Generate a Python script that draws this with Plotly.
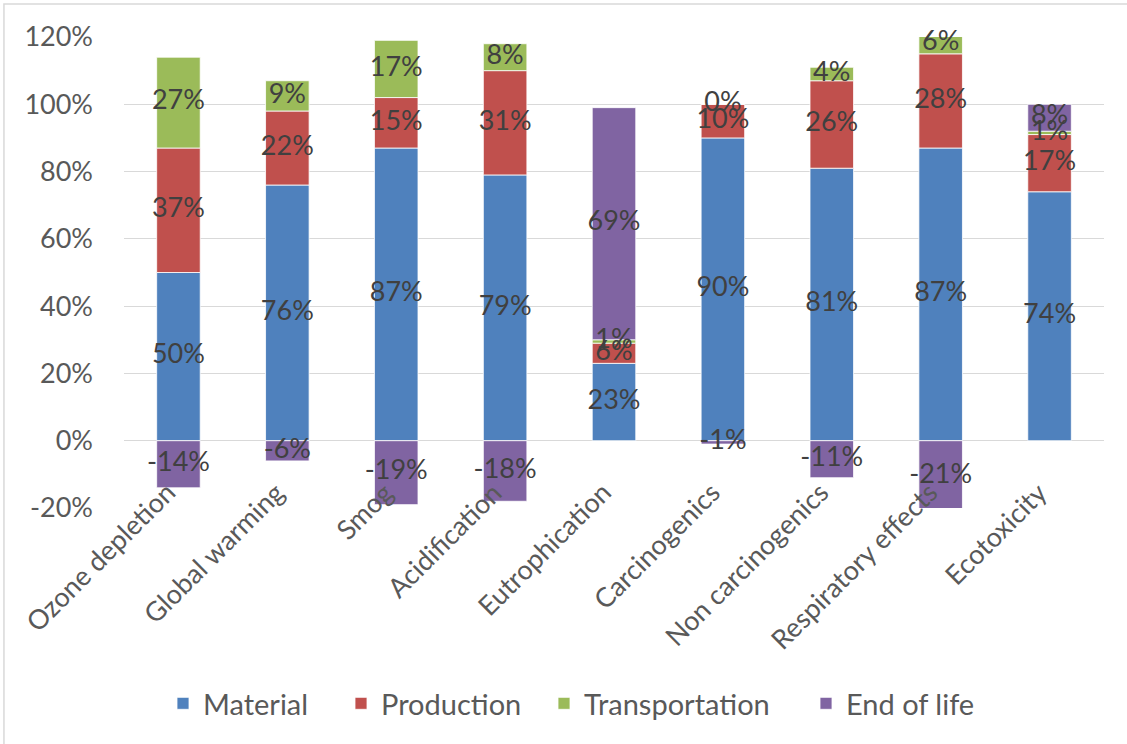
import plotly.graph_objects as go

# Impact categories and the share (%) contributed by each life-cycle stage
categories = [
    "Ozone depletion", "Global warming", "Smog", "Acidification",
    "Eutrophication", "Carcinogenics", "Non carcinogenics",
    "Respiratory effects", "Ecotoxicity",
]
material = [50, 76, 87, 79, 23, 90, 81, 87, 74]
production = [37, 22, 15, 31, 6, 10, 26, 28, 17]
transportation = [27, 9, 17, 8, 1, 0, 4, 6, 1]
end_of_life = [-14, -6, -19, -18, 69, -1, -11, -21, 8]

y_ticks = [-20, 0, 20, 40, 60, 80, 100, 120]
y_tick_labels = [f"{t}%" for t in y_ticks]

series = [
    ("Material", material, "#4F81BD"),
    ("Production", production, "#C0504D"),
    ("Transportation", transportation, "#9BBB59"),
    ("End of life", end_of_life, "#8064A2"),
]

FONT = "Lato"
LABEL_GREY = "#595959"

# Plot-area geometry in pixels, used to place each legend entry
PLOT_LEFT, PLOT_WIDTH = 124, 980
legend_left_px = [163, 341, 544, 806]
legend_ids = ["legend", "legend2", "legend3", "legend4"]

fig = go.Figure()
for (name, values, color), lid in zip(series, legend_ids):
    fig.add_trace(go.Bar(
        name=name,
        x=categories,
        y=values,
        legend=lid,
        marker=dict(color=color, line=dict(color="white", width=0.8)),
        hoverinfo="skip",
    ))

# Value labels centred on each stacked segment, drawn above every bar
pos_base = [0.0] * len(categories)
neg_base = [0.0] * len(categories)
for name, values, color in series:
    centers = []
    for i, v in enumerate(values):
        if v >= 0:
            centers.append(pos_base[i] + v / 2)
            pos_base[i] += v
        else:
            centers.append(neg_base[i] + v / 2)
            neg_base[i] += v
    fig.add_trace(go.Scatter(
        x=categories,
        y=centers,
        mode="text",
        text=[f"{v}%" for v in values],
        textposition="middle center",
        textfont=dict(family=FONT, size=27, color="#404040"),
        showlegend=False,
        hoverinfo="skip",
        cliponaxis=False,
    ))

# Category names slanted under the zero line
annotations = [
    dict(
        x=cat, y=0, xref="x", yref="y",
        text=cat, showarrow=False, textangle=-45,
        xanchor="right", yanchor="top", xshift=6, yshift=-32,
        font=dict(family=FONT, size=27, color=LABEL_GREY),
    )
    for cat in categories
]

legend_style = dict(
    orientation="h",
    xanchor="left",
    y=-0.415, yanchor="middle",
    font=dict(family=FONT, size=29, color=LABEL_GREY),
    bgcolor="rgba(0,0,0,0)",
)
legends = {
    lid: dict(legend_style, x=(px - PLOT_LEFT) / PLOT_WIDTH)
    for lid, px in zip(legend_ids, legend_left_px)
}

fig.update_layout(
    barmode="relative",
    bargap=0.6,
    width=1127,
    height=744,
    margin=dict(l=124, r=23, t=37, b=236),
    paper_bgcolor="white",
    plot_bgcolor="white",
    font=dict(family=FONT, size=27, color=LABEL_GREY),
    showlegend=True,
    xaxis=dict(
        range=[-0.5, len(categories) - 0.5],
        showticklabels=False,
        showgrid=False,
        showline=False,
        ticks="",
    ),
    yaxis=dict(
        range=[-20, 120],
        tickvals=y_ticks,
        ticktext=y_tick_labels,
        showgrid=True,
        gridcolor="#D9D9D9",
        gridwidth=1.3,
        zeroline=True,
        zerolinecolor="#D9D9D9",
        zerolinewidth=1.3,
        showline=False,
        ticks="",
        ticklabelstandoff=30,
        tickfont=dict(family=FONT, size=27, color=LABEL_GREY),
    ),
    annotations=annotations,
    shapes=[dict(
        type="rect", xref="paper", yref="paper",
        x0=-0.1225, x1=1.04, y0=1.0701, y1=-0.52,
        line=dict(color="#D9D9D9", width=1.5),
        fillcolor="rgba(0,0,0,0)", layer="below",
    )],
    **legends,
)

fig.write_html("out.html")
